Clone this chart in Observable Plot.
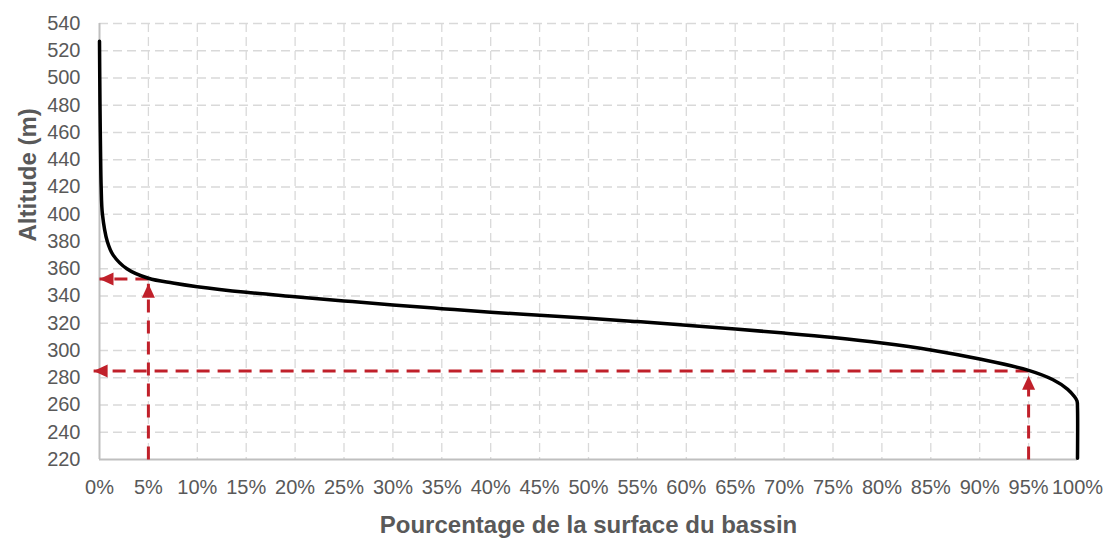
<!DOCTYPE html>
<html><head><meta charset="utf-8">
<script src="https://cdn.jsdelivr.net/npm/d3@7"></script>
<script src="https://cdn.jsdelivr.net/npm/@observablehq/plot@0.6"></script>
<style>body{margin:0;background:#fff;}</style>
</head><body><div id="chart"></div>
<script>
// Hypsometric curve: % of basin surface vs altitude (m)
const surfacePct = [0, 0.05, 0.1, 0.17, 0.3, 0.8, 1.4, 2.8, 5, 7.5, 10, 15, 20, 25, 30, 35, 40, 45, 50, 55, 60, 65, 70, 75, 80, 85, 90, 95, 97.5, 99, 99.7, 99.95, 100, 100];
const altitude   = [527, 480, 450, 420, 400, 380, 370, 360, 353, 349.5, 346.8, 342.7, 339.5, 336.4, 333.4, 330.7, 328.1, 325.9, 323.7, 321.2, 318.5, 315.8, 312.8, 309.5, 305.5, 300.4, 293.7, 285.4, 278.5, 271.5, 266, 263, 258, 221];

// Reading guides (5% and 95%)
const guidePct      = [5, 95];
const guideAlt      = [352.5, 285];
const guideTipAlt   = [349, 281.5];
const guideTipPct   = [0, -0.6];

const xTicks = [0,5,10,15,20,25,30,35,40,45,50,55,60,65,70,75,80,85,90,95,100];
const yTicks = [220,240,260,280,300,320,340,360,380,400,420,440,460,480,500,520,540];

const xTitle = "Pourcentage de la surface du bassin";
const yTitle = "Altitude (m)";

const curve = surfacePct.map((p, i) => ({p, a: altitude[i]}));
const guides = guidePct.map((p, i) => ({p, a: guideAlt[i], tipA: guideTipAlt[i], tipP: guideTipPct[i]}));

const red = "#c0202a";
const grid = "#d9d9d9";

const chart = Plot.plot({
  width: 1112,
  height: 541,
  marginLeft: 99,
  marginRight: 35,
  marginTop: 23,
  marginBottom: 82,
  style: {fontFamily: "'Liberation Sans', Arial, sans-serif", fontSize: "20px", color: "#595959", background: "#fff"},
  x: {domain: [0, 100]},
  y: {domain: [220, 540]},
  marks: [
    Plot.gridX(xTicks.filter(d => d > 0), {stroke: grid, strokeOpacity: 1, strokeWidth: 1.3, strokeDasharray: "9,5"}),
    Plot.gridY(yTicks.filter(d => d > 220), {stroke: grid, strokeOpacity: 1, strokeWidth: 1.3, strokeDasharray: "9,5"}),
    Plot.ruleX([0], {stroke: "#bfbfbf", strokeWidth: 2}),
    Plot.ruleY([220], {stroke: "#bfbfbf", strokeWidth: 2}),
    Plot.axisX({ticks: xTicks, tickSize: 0, tickPadding: 20, tickFormat: d => d + "%", label: null}),
    Plot.axisY({ticks: yTicks, tickSize: 0, tickPadding: 19, label: null}),
    // dashed guide lines
    Plot.link(guides, {x1: "p", y1: 220, x2: "p", y2: "tipA", stroke: red, strokeWidth: 3, strokeDasharray: "13,8"}),
    Plot.link(guides, {x1: "p", y1: "a", x2: "tipP", y2: "a", stroke: red, strokeWidth: 3, strokeDasharray: "13,8"}),
    // curve
    Plot.line(curve, {x: "p", y: "a", stroke: "#000", strokeWidth: 3.5, curve: "catmull-rom"}),
    // arrowheads
    Plot.vector(guides, {x: "p", y: "tipA", length: 14, r: 6.5, rotate: 0, anchor: "end", shape: "spike", fill: red, stroke: "none"}),
    Plot.vector(guides, {x: "tipP", y: "a", length: 14, r: 6.5, rotate: -90, anchor: "end", shape: "spike", fill: red, stroke: "none"}),
    // titles
    Plot.text([xTitle], {text: d => d, frameAnchor: "bottom", dy: 66, lineAnchor: "middle", fontSize: 24, fontWeight: "bold", fill: "#595959"}),
    Plot.text([yTitle], {text: d => d, frameAnchor: "left", dx: -71, rotate: -90, lineAnchor: "middle", fontSize: 24, fontWeight: "bold", fill: "#595959"})
  ]
});
document.getElementById("chart").appendChild(chart);
</script>
</body></html>
